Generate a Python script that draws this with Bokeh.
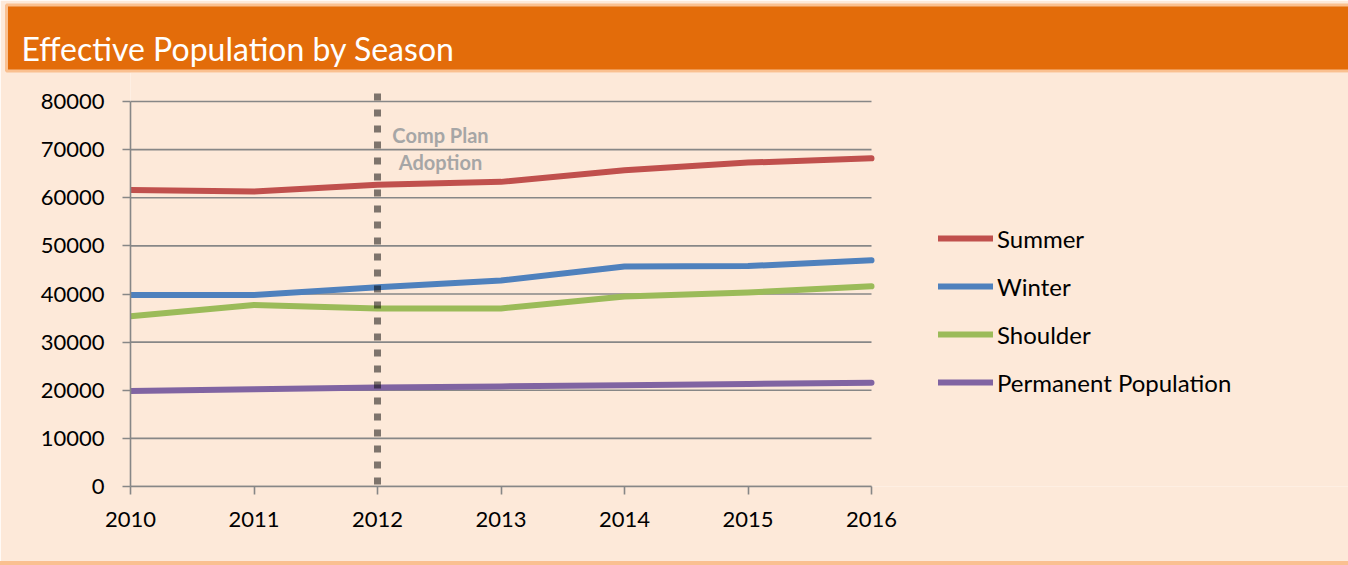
from bokeh.plotting import figure
from bokeh.models import (Range1d, FixedTicker, NumeralTickFormatter, Label,
                          Legend, LegendItem)
from bokeh.embed import file_html
from bokeh.resources import INLINE

# ---------------- data ----------------
years = [2010, 2011, 2012, 2013, 2014, 2015, 2016]
summer = [61600, 61300, 62700, 63300, 65700, 67300, 68200]
winter = [39800, 39800, 41400, 42800, 45700, 45800, 47000]
shoulder = [35400, 37700, 37000, 37000, 39500, 40300, 41600]
permanent = [19850, 20200, 20550, 20800, 21050, 21300, 21550]
series_names = ["Summer", "Winter", "Shoulder", "Permanent Population"]
y_ticks = [0, 10000, 20000, 30000, 40000, 50000, 60000, 70000, 80000]
adoption_year = 2012
annotation_lines = ["Comp Plan", "Adoption"]
annotation_x = 2012.51
annotation_y = [73100, 67500]
title_text = "Effective Population by Season"

# ---------------- style ----------------
series_colors = ["#C0504D", "#4F81BD", "#9BBB59", "#8064A2"]
PEACH = "#FDE9D9"
ORANGE = "#E36C0A"
STRIPE = "#FAC090"
GRID = "#878787"
FONT = "Lato"

W, H = 1348, 565
LEFT, TOP, BOTTOM = 130, 72, 79
# y range: 80000 sits 29px below the frame top; dotted marker starts 8px above 80000
px_per_unit = 385 / 80000
y_hi = y_ticks[-1] + 29 / px_per_unit
marker_top = y_ticks[-1] + 8 / px_per_unit
# x range: the plotted years occupy 741px; the frame continues to the right edge (legend area)
px_per_year = 741 / (years[-1] - years[0])
x_hi = years[-1] + (W - LEFT - 741) / px_per_year

p = figure(width=W, height=H, x_range=Range1d(years[0], x_hi),
           y_range=Range1d(0, y_hi),
           output_backend="svg", toolbar_location=None,
           min_border_left=LEFT, min_border_right=0, min_border_top=TOP, min_border_bottom=BOTTOM,
           styles={"border-bottom": "4px solid " + STRIPE})
p.background_fill_color = PEACH
p.border_fill_color = PEACH
p.outline_line_color = None

# title bar
p.title.text = title_text
p.title.align = "left"
p.title.vertical_align = "bottom"
p.title.offset = -124
p.title.standoff = 3
p.title.text_font = FONT
p.title.text_font_size = "32px"
p.title.text_font_style = "normal"
p.title.text_color = "white"
p.title.background_fill_color = ORANGE
p.title.padding = dict(left=15, right=950, top=24, bottom=3)
p.title.border_line_color = STRIPE
p.title.border_line_width = 3

# horizontal gridlines limited to the plotted years
p.xgrid.visible = False
p.ygrid.visible = False
p.segment(x0=[years[0]] * len(y_ticks), y0=y_ticks, x1=[years[-1]] * len(y_ticks), y1=y_ticks,
          line_color=GRID, line_width=1.6)

p.yaxis.ticker = FixedTicker(ticks=y_ticks)
p.yaxis.bounds = (y_ticks[0], y_ticks[-1])
p.yaxis.formatter = NumeralTickFormatter(format="0")
p.xaxis.ticker = FixedTicker(ticks=years)
p.xaxis.bounds = (years[0], years[-1])
p.xaxis.formatter = NumeralTickFormatter(format="0")
for ax in (p.xaxis, p.yaxis):
    ax.axis_line_color = GRID
    ax.axis_line_width = 1.6
    ax.major_tick_line_color = GRID
    ax.major_tick_line_width = 1.6
    ax.major_tick_out = 8
    ax.major_tick_in = 0
    ax.minor_tick_line_color = None
    ax.major_label_text_font = FONT
    ax.major_label_text_font_size = "22px"
    ax.major_label_text_color = "black"
p.yaxis.major_label_standoff = 18
p.xaxis.major_label_standoff = 17

renderers = []
for vals, col in zip([summer, winter, shoulder, permanent], series_colors):
    r = p.line(years, vals, line_color=col, line_width=6,
               line_cap="round", line_join="round")
    renderers.append(r)

# comp plan adoption marker (dotted, semi-transparent, drawn on top)
p.segment(x0=[adoption_year], y0=[marker_top], x1=[adoption_year], y1=[0],
          line_color="black", line_alpha=0.5, line_width=7, line_dash="7 9",
          line_cap="butt")

for txt, yy in zip(annotation_lines, annotation_y):
    p.add_layout(Label(x=annotation_x, y=yy, text=txt, text_align="center",
                       text_baseline="middle", text_color="#A6A6A6", text_font=FONT,
                       text_font_style="bold", text_font_size="20px"))

legend = Legend(items=[LegendItem(label=n, renderers=[r]) for n, r in zip(series_names, renderers)],
                location=(808, 89), orientation="vertical",
                glyph_width=55, glyph_height=30, label_height=30, spacing=18,
                padding=0, margin=0, label_standoff=4,
                background_fill_alpha=0, border_line_color=None,
                label_text_font=FONT, label_text_font_size="24px",
                label_text_color="black")
p.add_layout(legend)

open("out.html", "w").write(file_html(p, INLINE))
